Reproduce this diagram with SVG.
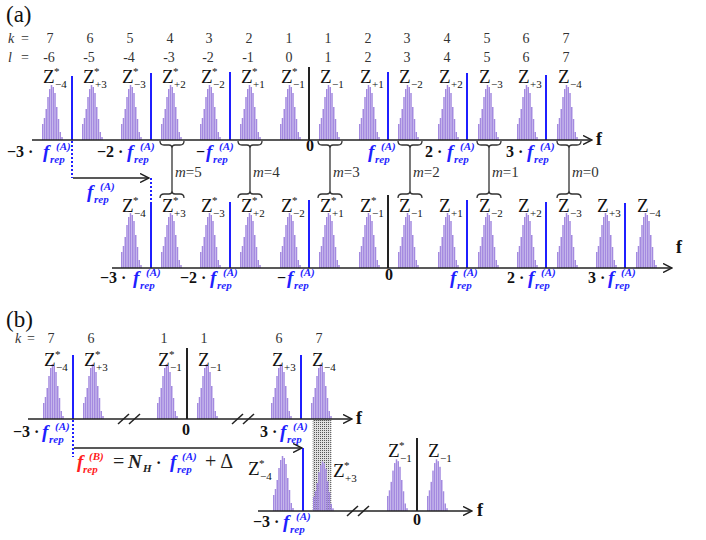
<svg xmlns="http://www.w3.org/2000/svg" width="706" height="540" viewBox="0 0 706 540">
<style>
.ax{stroke:#222;stroke-width:1.6;fill:none}
.bl{stroke:#1f1fff;stroke-width:2}
.bk{stroke:#222;stroke-width:2}
.dt{stroke:#1f1fff;stroke-width:2;stroke-dasharray:2 2}
.br{stroke:#333;stroke-width:1.3;fill:none}
.sl{stroke:#222;stroke-width:1.5}
.z{font-family:"Liberation Serif",serif;font-size:19px;fill:#111}
.zs{font-size:11px}
.zu{font-size:11px}
.n{font-family:"Liberation Serif",serif;font-size:14px;fill:#333}
.it{font-style:italic}
.nb{font-family:"Liberation Serif",serif;font-size:16px;font-weight:bold;fill:#111}
.fr{font-family:"Liberation Serif",serif;font-size:19px;font-weight:bold;font-style:italic;fill:#1f1fff}
.red{fill:#ff2020}
.fs{font-size:11px}
.m{font-family:"Liberation Serif",serif;font-size:15px;fill:#333}
.eq{font-family:"Liberation Serif",serif;font-size:20px;fill:#222}
.nbi{font-family:"Liberation Serif",serif;font-size:19px;font-weight:bold;font-style:italic;fill:#222}
.fa{font-family:"Liberation Serif",serif;font-size:18px;font-weight:bold;fill:#111}
.ttl{font-family:"Liberation Serif",serif;font-size:23px;fill:#111}
</style>
<defs>
<marker id="ah" viewBox="0 0 10 10" refX="9" refY="5" markerWidth="10" markerHeight="10" markerUnits="userSpaceOnUse" orient="auto">
<path d="M0,0.5 L9,5 L0,9.5" fill="none" stroke="#222" stroke-width="1.5"/>
</marker>
<pattern id="dots" width="2" height="2" patternUnits="userSpaceOnUse">
<rect width="2" height="2" fill="#e0e0e0"/><rect width="1" height="1" fill="#555"/>
</pattern>
<g id="sp" fill="#a48ae0">
<rect x="-10" y="-16" width="1.5" height="16"/>
<rect x="-8.25" y="-22" width="1.5" height="22"/>
<rect x="-6.5" y="-31" width="1.5" height="31"/>
<rect x="-4.75" y="-43" width="1.5" height="43"/>
<rect x="-3" y="-51" width="1.5" height="51"/>
<rect x="-1.25" y="-55" width="1.5" height="55"/>
<rect x="0.5" y="-53" width="1.5" height="53"/>
<rect x="2.25" y="-47" width="1.5" height="47"/>
<rect x="4" y="-33" width="1.5" height="33"/>
<rect x="5.75" y="-21" width="1.5" height="21"/>
<rect x="7.5" y="-8" width="1.5" height="8"/>
<rect x="9.25" y="-3" width="1.5" height="3"/>
</g>
</defs>
<rect width="706" height="540" fill="#fff"/>

<text class="ttl" x="6" y="22">(a)</text>
<text class="ttl" x="6" y="327">(b)</text>

<g id="index-rows" class="n">
<text x="8" y="43"><tspan class="it">k</tspan></text><text x="21" y="43">=</text>
<text x="8" y="62"><tspan class="it">l</tspan></text><text x="21" y="62">=</text>
<g text-anchor="middle">
<text x="50" y="43">7</text><text x="90" y="43">6</text><text x="130" y="43">5</text><text x="170" y="43">4</text><text x="209" y="43">3</text><text x="249" y="43">2</text><text x="289" y="43">1</text><text x="328" y="43">1</text><text x="368" y="43">2</text><text x="407" y="43">3</text><text x="447" y="43">4</text><text x="487" y="43">5</text><text x="526" y="43">6</text><text x="566" y="43">7</text>
<text x="49" y="62">-6</text><text x="89" y="62">-5</text><text x="129" y="62">-4</text><text x="169" y="62">-3</text><text x="208" y="62">-2</text><text x="248" y="62">-1</text><text x="289" y="62">0</text><text x="328" y="62">1</text><text x="368" y="62">2</text><text x="407" y="62">3</text><text x="447" y="62">4</text><text x="487" y="62">5</text><text x="526" y="62">6</text><text x="566" y="62">7</text>
</g>
<text x="15" y="343"><tspan class="it">k</tspan></text><text x="27" y="343">=</text>
<g text-anchor="middle">
<text x="51" y="343">7</text><text x="91" y="343">6</text><text x="164" y="343">1</text><text x="204" y="343">1</text><text x="279" y="343">6</text><text x="319" y="343">7</text>
</g>
</g>

<g id="a-top-row">
<g id="a-top-spectra">
<use href="#sp" x="52" y="140"/><use href="#sp" x="92" y="140"/><use href="#sp" x="131" y="140"/><use href="#sp" x="171" y="140"/><use href="#sp" x="210" y="140"/><use href="#sp" x="250" y="140"/><use href="#sp" x="290" y="140"/><use href="#sp" x="329" y="140"/><use href="#sp" x="369" y="140"/><use href="#sp" x="408" y="140"/><use href="#sp" x="448" y="140"/><use href="#sp" x="488" y="140"/><use href="#sp" x="527" y="140"/><use href="#sp" x="567" y="140"/>
</g>
<g id="a-top-lines">
<line class="bl" x1="72" y1="76" x2="72" y2="140"/>
<line class="bl" x1="151" y1="73" x2="151" y2="140"/>
<line class="bl" x1="230" y1="72" x2="230" y2="140"/>
<line class="bk" x1="309" y1="67" x2="309" y2="140"/>
<line class="bl" x1="388" y1="72" x2="388" y2="140"/>
<line class="bl" x1="467" y1="73" x2="467" y2="140"/>
<line class="bl" x1="546" y1="75" x2="546" y2="140"/>
</g>
<g id="a-top-z" class="z">
<text x="43" y="83">Z<tspan class="zu" x="54" y="75">*</tspan><tspan class="zs" x="55" y="88">−4</tspan></text>
<text x="83" y="83">Z<tspan class="zu" x="94" y="75">*</tspan><tspan class="zs" x="95" y="88">+3</tspan></text>
<text x="122" y="83">Z<tspan class="zu" x="133" y="75">*</tspan><tspan class="zs" x="134" y="88">−3</tspan></text>
<text x="162" y="83">Z<tspan class="zu" x="173" y="75">*</tspan><tspan class="zs" x="174" y="88">+2</tspan></text>
<text x="201" y="83">Z<tspan class="zu" x="212" y="75">*</tspan><tspan class="zs" x="213" y="88">−2</tspan></text>
<text x="241" y="83">Z<tspan class="zu" x="252" y="75">*</tspan><tspan class="zs" x="253" y="88">+1</tspan></text>
<text x="281" y="83">Z<tspan class="zu" x="292" y="75">*</tspan><tspan class="zs" x="293" y="88">−1</tspan></text>
<text x="320" y="83">Z<tspan class="zs" x="332" y="88">−1</tspan></text>
<text x="360" y="83">Z<tspan class="zs" x="372" y="88">+1</tspan></text>
<text x="399" y="83">Z<tspan class="zs" x="411" y="88">−2</tspan></text>
<text x="439" y="83">Z<tspan class="zs" x="451" y="88">+2</tspan></text>
<text x="479" y="83">Z<tspan class="zs" x="491" y="88">−3</tspan></text>
<text x="518" y="83">Z<tspan class="zs" x="530" y="88">+3</tspan></text>
<text x="558" y="83">Z<tspan class="zs" x="570" y="88">−4</tspan></text>
</g>
<g id="a-top-axis-labels">
<text class="nb" x="7" y="157">−3 ·</text><text class="fr" x="43" y="158">f<tspan class="fs" x="56" y="150">(A)</tspan><tspan class="fs" x="50" y="163">rep</tspan></text>
<text class="nb" x="97" y="157">−2 ·</text><text class="fr" x="127" y="158">f<tspan class="fs" x="140" y="150">(A)</tspan><tspan class="fs" x="134" y="163">rep</tspan></text>
<text class="nb" x="196" y="157">−</text><text class="fr" x="206" y="158">f<tspan class="fs" x="219" y="150">(A)</tspan><tspan class="fs" x="213" y="163">rep</tspan></text>
<text class="nb" x="306" y="151">0</text>
<text class="fr" x="368" y="158">f<tspan class="fs" x="381" y="150">(A)</tspan><tspan class="fs" x="375" y="163">rep</tspan></text>
<text class="nb" x="425" y="157">2 ·</text><text class="fr" x="447" y="158">f<tspan class="fs" x="460" y="150">(A)</tspan><tspan class="fs" x="454" y="163">rep</tspan></text>
<text class="nb" x="506" y="157">3 ·</text><text class="fr" x="527" y="158">f<tspan class="fs" x="540" y="150">(A)</tspan><tspan class="fs" x="534" y="163">rep</tspan></text>
<text class="fa" x="596" y="145">f</text>
</g>
</g>

<g id="a-bottom-row">
<g id="a-bottom-spectra">
<use href="#sp" x="131" y="268"/><use href="#sp" x="171" y="268"/><use href="#sp" x="210" y="268"/><use href="#sp" x="250" y="268"/><use href="#sp" x="290" y="268"/><use href="#sp" x="329" y="268"/><use href="#sp" x="369" y="268"/><use href="#sp" x="408" y="268"/><use href="#sp" x="448" y="268"/><use href="#sp" x="488" y="268"/><use href="#sp" x="527" y="268"/><use href="#sp" x="567" y="268"/><use href="#sp" x="606" y="268"/><use href="#sp" x="646" y="268"/>
</g>
<g id="a-bottom-lines">
<line class="bl" x1="151" y1="202" x2="151" y2="268"/>
<line class="bl" x1="230" y1="202" x2="230" y2="268"/>
<line class="bl" x1="309" y1="200" x2="309" y2="268"/>
<line class="bk" x1="388" y1="195" x2="388" y2="268"/>
<line class="bl" x1="467" y1="200" x2="467" y2="268"/>
<line class="bl" x1="546" y1="202" x2="546" y2="268"/>
<line class="bl" x1="625" y1="203" x2="625" y2="268"/>
</g>
<g id="a-bottom-z" class="z">
<text x="122" y="212">Z<tspan class="zu" x="133" y="204">*</tspan><tspan class="zs" x="134" y="217">−4</tspan></text>
<text x="162" y="212">Z<tspan class="zu" x="173" y="204">*</tspan><tspan class="zs" x="174" y="217">+3</tspan></text>
<text x="201" y="212">Z<tspan class="zu" x="212" y="204">*</tspan><tspan class="zs" x="213" y="217">−3</tspan></text>
<text x="241" y="212">Z<tspan class="zu" x="252" y="204">*</tspan><tspan class="zs" x="253" y="217">+2</tspan></text>
<text x="281" y="212">Z<tspan class="zu" x="292" y="204">*</tspan><tspan class="zs" x="293" y="217">−2</tspan></text>
<text x="320" y="212">Z<tspan class="zu" x="331" y="204">*</tspan><tspan class="zs" x="332" y="217">+1</tspan></text>
<text x="360" y="212">Z<tspan class="zu" x="371" y="204">*</tspan><tspan class="zs" x="372" y="217">−1</tspan></text>
<text x="399" y="212">Z<tspan class="zs" x="411" y="217">−1</tspan></text>
<text x="439" y="212">Z<tspan class="zs" x="451" y="217">+1</tspan></text>
<text x="479" y="212">Z<tspan class="zs" x="491" y="217">−2</tspan></text>
<text x="518" y="212">Z<tspan class="zs" x="530" y="217">+2</tspan></text>
<text x="558" y="212">Z<tspan class="zs" x="570" y="217">−3</tspan></text>
<text x="597" y="212">Z<tspan class="zs" x="609" y="217">+3</tspan></text>
<text x="637" y="212">Z<tspan class="zs" x="649" y="217">−4</tspan></text>
</g>
<g id="a-bottom-axis-labels">
<text class="nb" x="100" y="283">−3 ·</text><text class="fr" x="133" y="284">f<tspan class="fs" x="146" y="276">(A)</tspan><tspan class="fs" x="140" y="289">rep</tspan></text>
<text class="nb" x="180" y="283">−2 ·</text><text class="fr" x="210" y="284">f<tspan class="fs" x="223" y="276">(A)</tspan><tspan class="fs" x="217" y="289">rep</tspan></text>
<text class="nb" x="277" y="283">−</text><text class="fr" x="287" y="284">f<tspan class="fs" x="300" y="276">(A)</tspan><tspan class="fs" x="294" y="289">rep</tspan></text>
<text class="nb" x="385" y="280">0</text>
<text class="fr" x="450" y="284">f<tspan class="fs" x="463" y="276">(A)</tspan><tspan class="fs" x="457" y="289">rep</tspan></text>
<text class="nb" x="507" y="283">2 ·</text><text class="fr" x="528" y="284">f<tspan class="fs" x="541" y="276">(A)</tspan><tspan class="fs" x="535" y="289">rep</tspan></text>
<text class="nb" x="588" y="283">3 ·</text><text class="fr" x="608" y="284">f<tspan class="fs" x="621" y="276">(A)</tspan><tspan class="fs" x="615" y="289">rep</tspan></text>
<text class="fa" x="676" y="253">f</text>
</g>
</g>

<g id="b-top-row">
<use href="#sp" x="53" y="419"/><use href="#sp" x="93" y="419"/><use href="#sp" x="167" y="419"/><use href="#sp" x="207" y="419"/><use href="#sp" x="281" y="419"/><use href="#sp" x="321" y="419"/>
<line class="bl" x1="73" y1="355" x2="73" y2="419"/>
<line class="bk" x1="187" y1="348" x2="187" y2="419"/>
<line class="bl" x1="301" y1="355" x2="301" y2="419"/>
<g class="z">
<text x="44" y="366">Z<tspan class="zu" x="55" y="358">*</tspan><tspan class="zs" x="56" y="371">−4</tspan></text>
<text x="84" y="366">Z<tspan class="zu" x="95" y="358">*</tspan><tspan class="zs" x="96" y="371">+3</tspan></text>
<text x="158" y="366">Z<tspan class="zu" x="169" y="358">*</tspan><tspan class="zs" x="170" y="371">−1</tspan></text>
<text x="198" y="366">Z<tspan class="zs" x="210" y="371">−1</tspan></text>
<text x="272" y="366">Z<tspan class="zs" x="284" y="371">+3</tspan></text>
<text x="312" y="366">Z<tspan class="zs" x="324" y="371">−4</tspan></text>
</g>
<text class="nb" x="13" y="437">−3 ·</text><text class="fr" x="42" y="438">f<tspan class="fs" x="55" y="430">(A)</tspan><tspan class="fs" x="49" y="443">rep</tspan></text>
<text class="nb" x="182" y="435">0</text>
<text class="nb" x="260" y="437">3 ·</text><text class="fr" x="280" y="438">f<tspan class="fs" x="293" y="430">(A)</tspan><tspan class="fs" x="287" y="443">rep</tspan></text>
<text class="fa" x="356" y="424">f</text>
</g>

<g id="b-overlap">
<rect x="313" y="420" width="18" height="90" fill="url(#dots)" stroke="#888" stroke-width="0.8" stroke-dasharray="1 1"/>
</g>

<g id="b-bottom-row">
<use href="#sp" transform="translate(283,511)"/>
<use href="#sp" transform="translate(323,511) scale(1,0.9)"/>
<use href="#sp" transform="translate(397,511) scale(1,0.94)"/>
<use href="#sp" transform="translate(437,511) scale(1,0.94)"/>
<line class="bl" x1="303" y1="448" x2="303" y2="511"/>
<line class="bk" x1="417" y1="438" x2="417" y2="511"/>
<g class="z">
<text x="248" y="475">Z<tspan class="zu" x="259" y="467">*</tspan><tspan class="zs" x="260" y="480">−4</tspan></text>
<text x="333" y="477">Z<tspan class="zu" x="344" y="469">*</tspan><tspan class="zs" x="345" y="482">+3</tspan></text>
<text x="388" y="457">Z<tspan class="zu" x="399" y="449">*</tspan><tspan class="zs" x="400" y="462">−1</tspan></text>
<text x="428" y="457">Z<tspan class="zs" x="440" y="462">−1</tspan></text>
</g>
<text class="nb" x="253" y="527">−3 ·</text><text class="fr" x="283" y="528">f<tspan class="fs" x="296" y="520">(A)</tspan><tspan class="fs" x="290" y="533">rep</tspan></text>
<text class="nb" x="413" y="525">0</text>
<text class="fa" x="477" y="516">f</text>
</g>

<g id="formula">
<text class="fr red" x="77" y="468">f<tspan class="fs" x="89" y="460">(B)</tspan><tspan class="fs" x="83" y="473">rep</tspan></text>
<text class="eq" x="113" y="468">=</text>
<text class="nbi" x="128" y="468">N<tspan class="fs" x="143" y="472">H</tspan></text>
<text class="nb" x="156" y="468">·</text>
<text class="fr" x="170" y="468">f<tspan class="fs" x="182" y="460">(A)</tspan><tspan class="fs" x="177" y="473">rep</tspan></text>
<text class="eq" x="205" y="468">+ Δ</text>
</g>

<g id="connectors">
<line class="ax" x1="32" y1="140" x2="592" y2="140" marker-end="url(#ah)"/>
<line class="ax" x1="112" y1="268" x2="672" y2="268" marker-end="url(#ah)"/>
<line class="ax" x1="28" y1="419" x2="352" y2="419" marker-end="url(#ah)"/>
<line class="ax" x1="258" y1="511" x2="472" y2="511" marker-end="url(#ah)"/>
<line class="dt" x1="72" y1="141" x2="72" y2="178"/>
<line class="dt" x1="151" y1="178" x2="151" y2="202"/>
<line class="ax" x1="73" y1="178" x2="149" y2="178" marker-end="url(#ah)"/>
<text class="fr" x="87" y="198">f<tspan class="fs" x="100" y="190">(A)</tspan><tspan class="fs" x="94" y="203">rep</tspan></text>
<line class="dt" x1="73" y1="420" x2="73" y2="457"/>
<line class="ax" x1="74" y1="448" x2="302" y2="448" marker-end="url(#ah)"/>
<g id="breaks">
<line class="sl" x1="118" y1="424" x2="129" y2="414"/><line class="sl" x1="129" y1="424" x2="140" y2="414"/>
<line class="sl" x1="232" y1="424" x2="243" y2="414"/><line class="sl" x1="243" y1="424" x2="254" y2="414"/>
<line class="sl" x1="347" y1="516" x2="358" y2="506"/><line class="sl" x1="358" y1="516" x2="369" y2="506"/>
</g>
<g id="braces">
<path class="br" d="M160,141 q0,4 4,4 h5 q3,0 3,3 q0,-3 3,-3 h5 q4,0 4,-4 M172,148 V192 M160,198 q0,-4 4,-4 h5 q3,0 3,-3 q0,3 3,3 h5 q4,0 4,4"/>
<path class="br" d="M238,141 q0,4 4,4 h5 q3,0 3,3 q0,-3 3,-3 h5 q4,0 4,-4 M250,148 V192 M238,198 q0,-4 4,-4 h5 q3,0 3,-3 q0,3 3,3 h5 q4,0 4,4"/>
<path class="br" d="M318,141 q0,4 4,4 h5 q3,0 3,3 q0,-3 3,-3 h5 q4,0 4,-4 M330,148 V192 M318,198 q0,-4 4,-4 h5 q3,0 3,-3 q0,3 3,3 h5 q4,0 4,4"/>
<path class="br" d="M398,141 q0,4 4,4 h5 q3,0 3,3 q0,-3 3,-3 h5 q4,0 4,-4 M410,148 V192 M398,198 q0,-4 4,-4 h5 q3,0 3,-3 q0,3 3,3 h5 q4,0 4,4"/>
<path class="br" d="M477,141 q0,4 4,4 h5 q3,0 3,3 q0,-3 3,-3 h5 q4,0 4,-4 M489,148 V192 M477,198 q0,-4 4,-4 h5 q3,0 3,-3 q0,3 3,3 h5 q4,0 4,4"/>
<path class="br" d="M557,141 q0,4 4,4 h5 q3,0 3,3 q0,-3 3,-3 h5 q4,0 4,-4 M569,148 V192 M557,198 q0,-4 4,-4 h5 q3,0 3,-3 q0,3 3,3 h5 q4,0 4,4"/>
</g>
<g id="m-labels" class="m">
<text x="175" y="177"><tspan class="it">m</tspan>=5</text>
<text x="253" y="177"><tspan class="it">m</tspan>=4</text>
<text x="333" y="177"><tspan class="it">m</tspan>=3</text>
<text x="413" y="177"><tspan class="it">m</tspan>=2</text>
<text x="492" y="177"><tspan class="it">m</tspan>=1</text>
<text x="572" y="177"><tspan class="it">m</tspan>=0</text>
</g>
</g>
</svg>
